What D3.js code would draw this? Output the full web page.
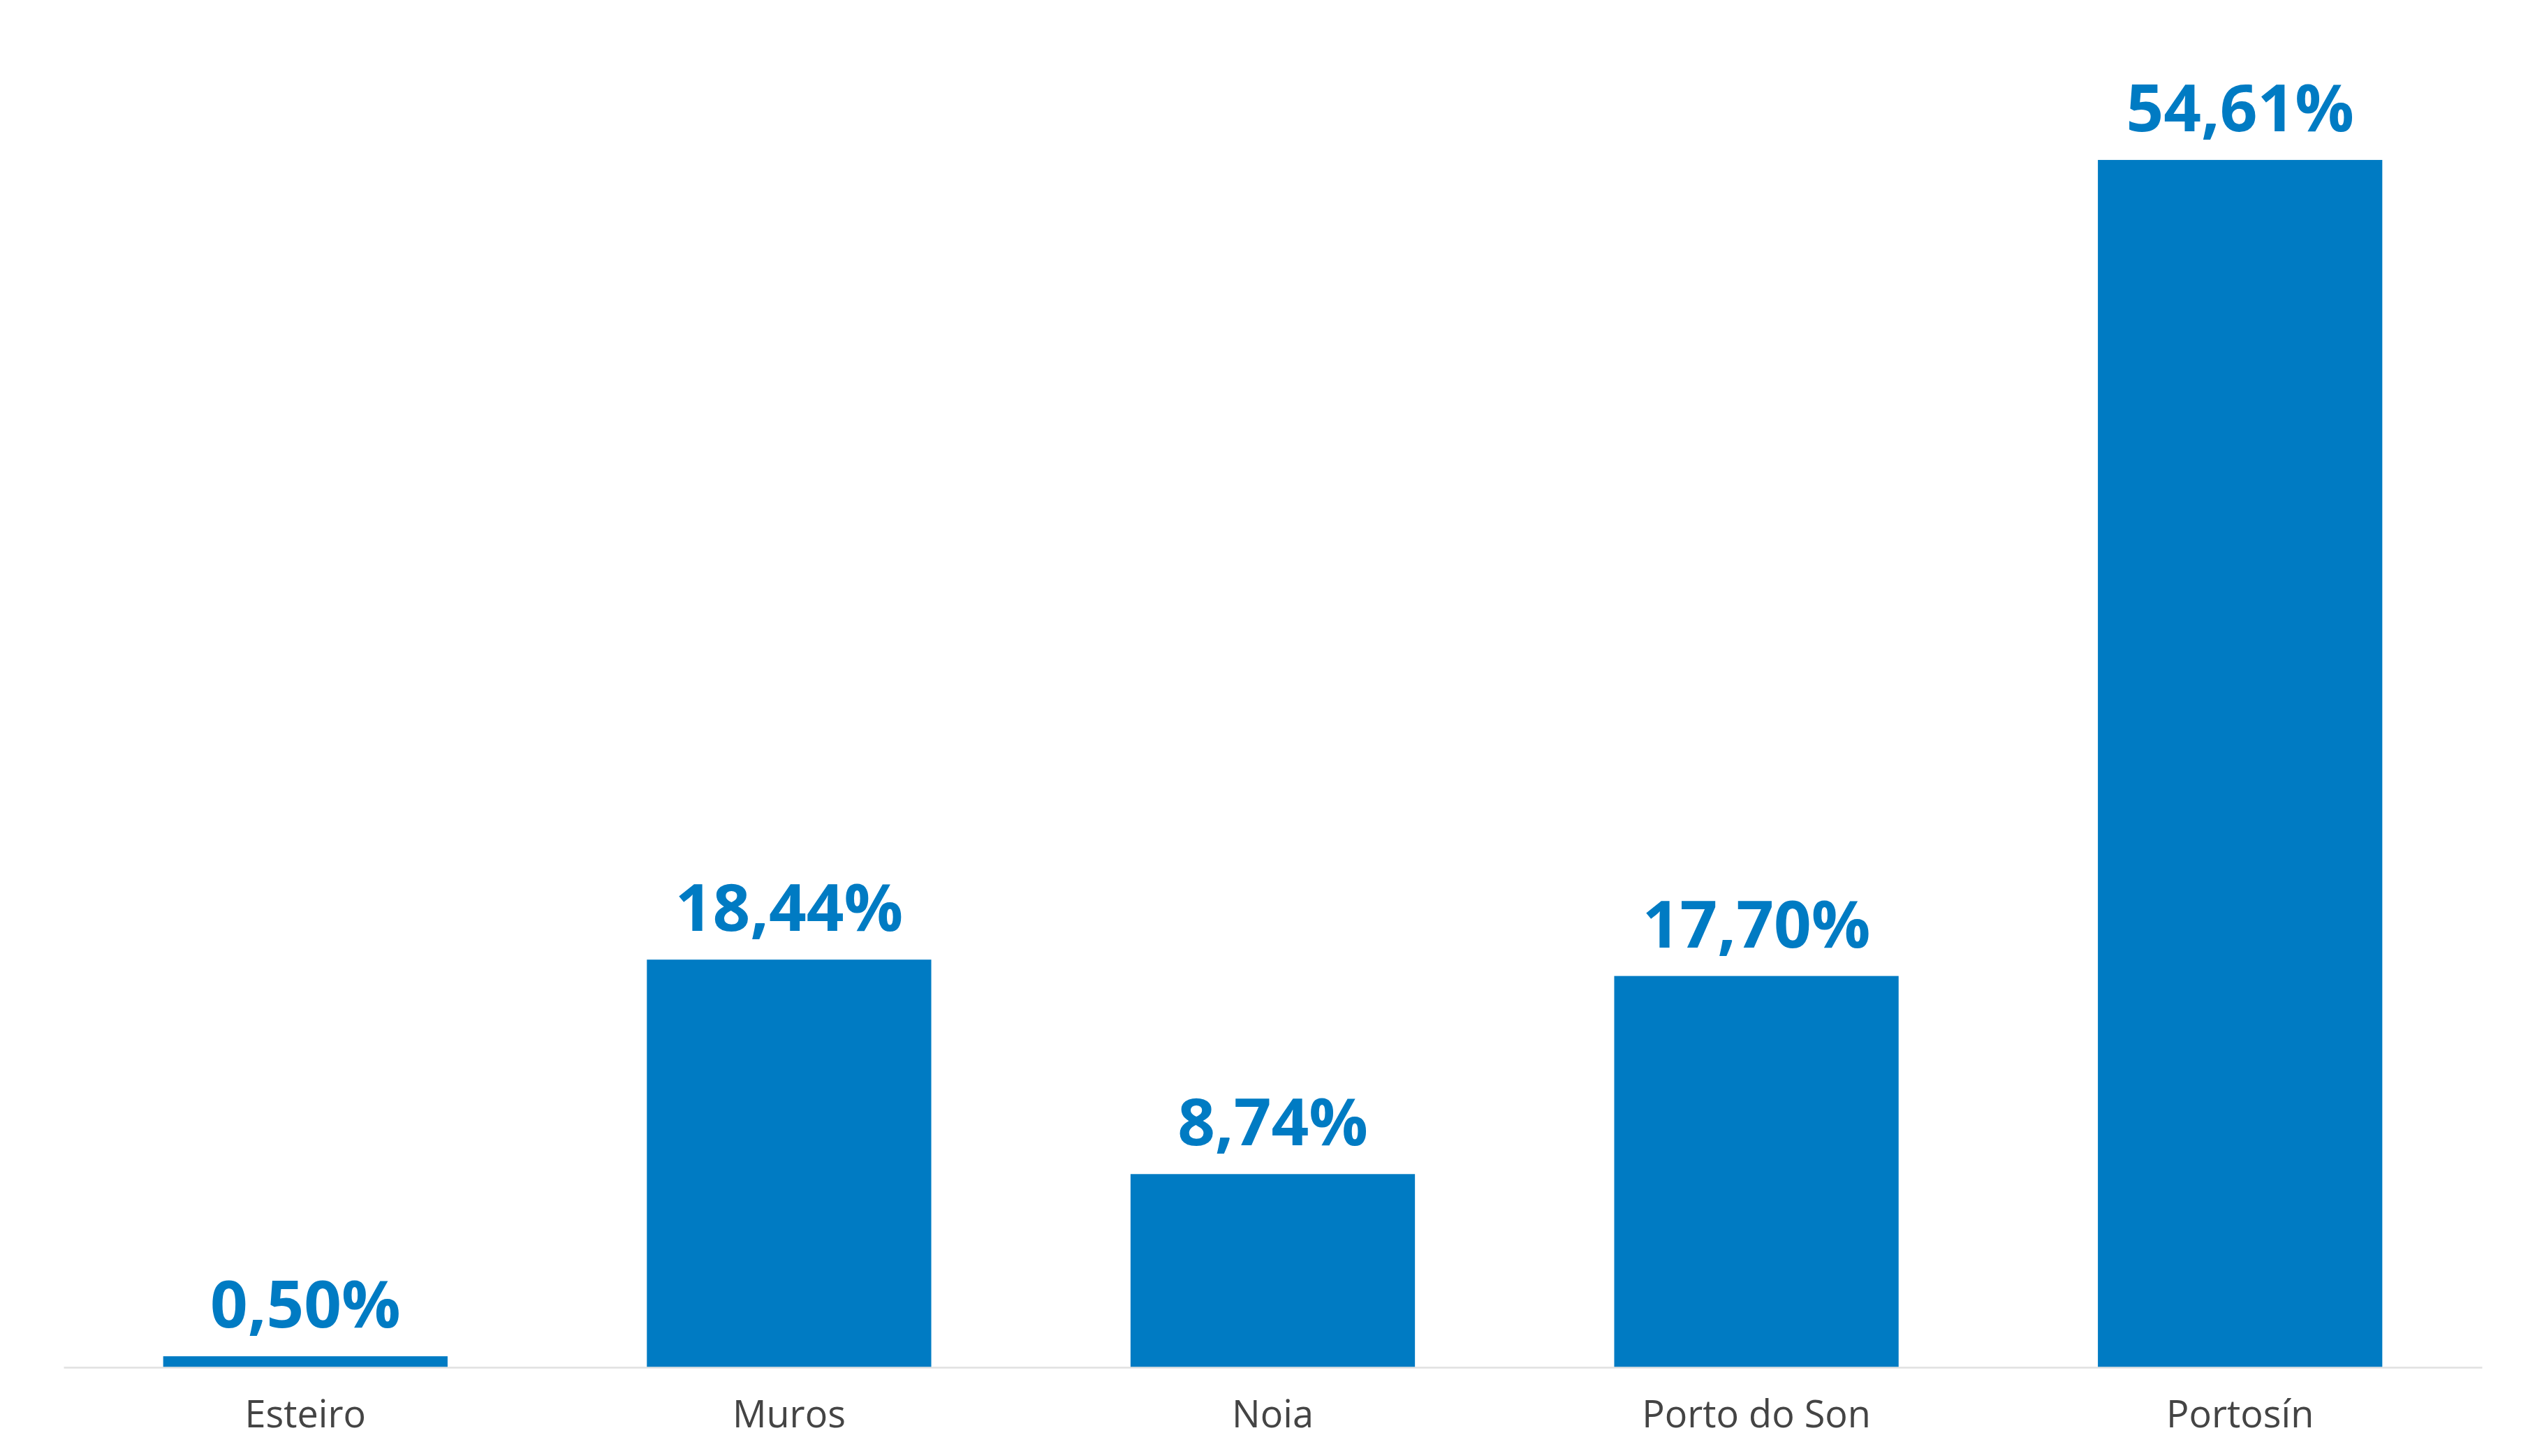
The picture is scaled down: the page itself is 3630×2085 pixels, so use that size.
<!DOCTYPE html>
<html>
<head>
<meta charset="utf-8">
<script src="https://cdn.jsdelivr.net/npm/d3@7"></script>
<style>
  html, body { margin: 0; padding: 0; background: #ffffff; }
  svg { display: block; }
</style>
</head>
<body>
<script>
const categories = ["Esteiro", "Muros", "Noia", "Porto do Son", "Portosín"];
const values = [0.50, 18.44, 8.74, 17.70, 54.61];
const valueLabels = ["0,50%", "18,44%", "8,74%", "17,70%", "54,61%"];

const W = 3630, H = 2085;
const baseline = 1958;
const pxPerUnit = 31.66;

const svg = d3.select("body").append("svg").attr("width", W).attr("height", H);

const x = d3.scaleBand()
  .domain(categories)
  .range([91, 3554])
  .paddingInner(0.412)
  .paddingOuter(0.206);

const y = d3.scaleLinear()
  .domain([0, 60])
  .range([baseline, baseline - 60 * pxPerUnit]);

const color = "#007BC3";

svg.append("g").selectAll("rect")
  .data(categories)
  .join("rect")
  .attr("x", d => x(d))
  .attr("width", x.bandwidth())
  .attr("y", (d, i) => y(values[i]))
  .attr("height", (d, i) => baseline - y(values[i]))
  .attr("fill", color);

// axis line
const axis = svg.append("g")
  .attr("transform", `translate(0,${baseline})`)
  .call(d3.axisBottom(x).tickSize(0).tickPadding(86));
axis.select(".domain").attr("stroke", "#e1e1e1").attr("stroke-width", 2.5);
axis.selectAll("text")
  .attr("font-family", "'Open Sans', sans-serif")
  .attr("font-size", 54)
  .attr("fill", "#444444")
  .attr("dy", 0);

svg.append("g").selectAll("text")
  .data(categories)
  .join("text")
  .attr("x", d => x(d) + x.bandwidth() / 2)
  .attr("y", (d, i) => y(values[i]) - 41)
  .attr("text-anchor", "middle")
  .attr("font-family", "'Open Sans', sans-serif")
  .attr("font-weight", 700)
  .attr("font-size", 94)
  .attr("fill", color)
  .text((d, i) => valueLabels[i]);
</script>
</body>
</html>
